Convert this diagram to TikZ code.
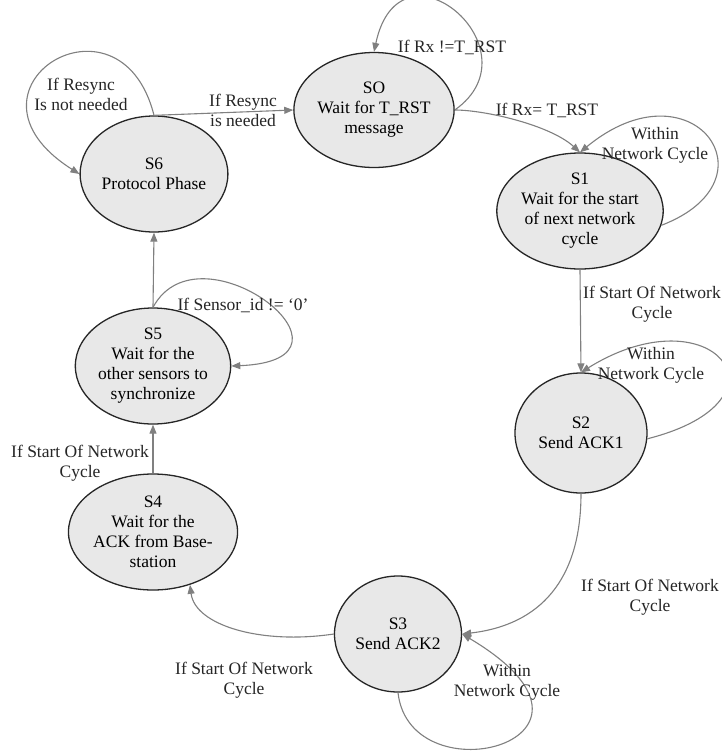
\documentclass[tikz,border=0pt]{standalone}
\usepackage{fontspec}
\setmainfont{Liberation Serif}
\usetikzlibrary{shapes.geometric,arrows.meta}
\begin{document}
\begin{tikzpicture}[x=1pt,y=-1pt,
  state/.style={ellipse, draw=black!85, line width=1.3pt, fill=black!9,
    inner sep=0pt, align=center, font=\fontsize{17.5}{20}\selectfont},
  trans/.style={draw=black!50, line width=1.1pt,
    -{Triangle[length=9pt,width=7pt]}},
  lbl/.style={align=center, inner sep=0pt,
    font=\fontsize{17.5}{20}\selectfont, text=black!85}]
\path[use as bounding box, fill=white] (0,0) rectangle (722,756);

% states
\node[state, minimum width=126pt, minimum height=115pt] (S0) at (374,110)
  {SO\\Wait for T\_RST\\message};
\node[state, minimum width=126pt, minimum height=116pt] (S1) at (580,211)
  {S1\\Wait for the start\\of next network\\cycle};
\node[state, minimum width=132pt, minimum height=120pt] (S2) at (581,433)
  {S2\\Send ACK1};
\node[state, minimum width=127pt, minimum height=116pt] (S3) at (398,634)
  {S3\\Send ACK2};
\node[state, minimum width=122pt, minimum height=116pt] (S4) at (153,532)
  {S4\\Wait for the\\ACK from Base-\\station};
\node[state, minimum width=122pt, minimum height=116pt] (S5) at (153,366)
  {S5\\Wait for the\\other sensors to\\synchronize};
\node[state, minimum width=125pt, minimum height=116pt] (S6) at (154,174)
  {S6\\Protocol Phase};

% transitions
\draw[trans] (S6.north) -- (S0.west);
\draw[trans] (S6.north) .. controls (120,-20) and (-55,89) .. (S6.west);
\draw[trans] (S0.east) .. controls (540,50) and (400,-70) .. (S0.north);
\draw[trans] (S0.east) .. controls (485,110) and (550,125) .. (S1.north);
\draw[trans] (S1.-10) .. controls (780,180) and (692,60) .. (S1.north);
\draw[trans] (S1.south) -- (S2.north);
\draw[trans] (S2.-5) .. controls (800,400) and (712,291) .. (S2.north);
\draw[trans] (S2.south) .. controls (581,580) and (540,625) .. (S3.east);
\draw[trans] (S3.south) .. controls (410,800) and (640,740) .. (S3.east);
\draw[trans] (S3.west) .. controls (260,645) and (195,625) .. (S4.-55);
\draw[trans] (S4.north) -- (S5.south);
\draw[trans] (S5.north) .. controls (200,220) and (380,360) .. (S5.east);
\draw[trans] (S5.north) -- (S6.south);

% transition labels
\node[lbl] (l60) at (243,110) {If Resync\\is needed};
\node[lbl] (l66) at (81,94) {If Resync\\Is not needed};
\node[lbl] (l00) at (452,47) {If Rx !=T\_RST};
\node[lbl] (l01) at (547,110) {If Rx= T\_RST};
\node[lbl] (l11) at (655,145) {Within\\Network Cycle};
\node[lbl] (l12) at (652,304) {If Start Of Network\\Cycle};
\node[lbl] (l22) at (651,365) {Within\\Network Cycle};
\node[lbl] (l23) at (650,597) {If Start Of Network\\Cycle};
\node[lbl] (l33) at (507,682) {Within\\Network Cycle};
\node[lbl] (l34) at (244,680) {If Start Of Network\\Cycle};
\node[lbl] (l45) at (80,463) {If Start Of Network\\Cycle};
\node[lbl] (l55) at (243,305) {If Sensor\_id != ‘0’};
\end{tikzpicture}
\end{document}
